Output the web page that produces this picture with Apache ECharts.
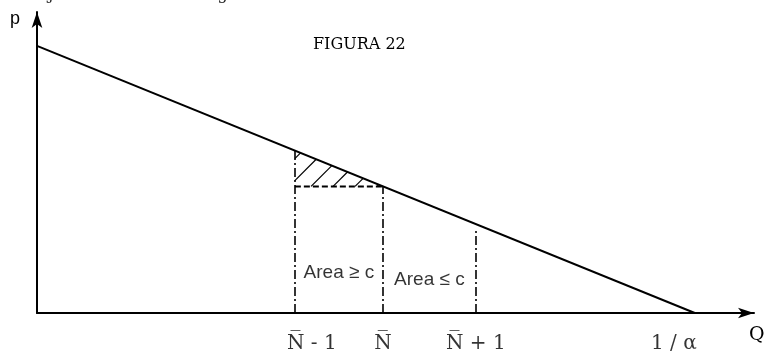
<!DOCTYPE html>
<html>
<head>
<meta charset="utf-8">
<script src="https://cdn.jsdelivr.net/npm/echarts@6/dist/echarts.min.js"></script>
<style>
  html, body { margin: 0; padding: 0; background: #fff; }
  #chart { width: 774px; height: 356px; }
</style>
</head>
<body>
<div id="chart"></div>
<script>
// Linear inverse demand p = 1 - alpha * Q, with 1/alpha on the Q axis
const invAlpha = 10;
const demandPoints = [[0, 1], [invAlpha, 0]];

// Positions of N-1, N, N+1 on the Q axis
const firmCounts = [3.92, 5.26, 6.67];
const firmLabels = ['N\u0305 - 1', 'N\u0305', 'N\u0305 + 1'];
const endLabel = '1 / \u03b1';

const areaLabels = ['Area \u2265 c', 'Area \u2264 c'];

const price = q => 1 - q / invAlpha;

const ink = '#000';
const serif = '"DejaVu Serif", "Liberation Serif", serif';
const sans = '"Liberation Sans", Arial, sans-serif';

const chart = echarts.init(document.getElementById('chart'));

// Dash-dot verticals from the Q axis up to the demand curve
const verticals = firmCounts.map((q, i) => ({
  coords: [[q, 0], [q, price(q) - (i === 2 ? 0.015 : 0)]]
}));

// Hatching inside the triangle above the dashed rectangle
function renderHatch(params, api) {
  const x1 = firmCounts[0], x2 = firmCounts[1];
  const A = api.coord([x1, price(x1)]);
  const B = api.coord([x2, price(x2)]);
  const C = api.coord([x1, price(x2)]);
  const m = (B[1] - A[1]) / (B[0] - A[0]);
  const children = [];
  const step = 22;
  const cMin = A[0] + A[1], cMax = B[0] + B[1];
  for (let c = cMin + 8; c < cMax - 4; c += step) {
    const pts = [];
    // bottom edge
    const xb = c - C[1];
    if (xb >= C[0] && xb <= B[0]) pts.push([xb, C[1]]);
    // left edge
    const yl = c - A[0];
    if (yl >= A[1] && yl <= C[1]) pts.push([A[0], yl]);
    // demand edge
    const xh = (c - A[1] + A[0] * m) / (1 + m);
    if (xh >= A[0] && xh <= B[0]) pts.push([xh, A[1] + (xh - A[0]) * m]);
    if (pts.length >= 2) {
      children.push({
        type: 'line',
        shape: { x1: pts[0][0], y1: pts[0][1], x2: pts[1][0], y2: pts[1][1] },
        style: { stroke: ink, lineWidth: 1.2 }
      });
    }
  }
  return { type: 'group', children };
}

chart.setOption({
  animation: false,
  grid: { left: 37, right: 20, top: 12, bottom: 43 },
  xAxis: {
    type: 'value', min: 0, max: 10.9,
    axisLine: { show: true, onZero: false, symbol: ['none', 'arrow'], symbolSize: [8, 16],
      lineStyle: { color: ink, width: 2 } },
    axisTick: { show: false }, axisLabel: { show: false }, splitLine: { show: false }
  },
  yAxis: {
    type: 'value', min: 0, max: 1.127,
    axisLine: { show: true, onZero: false, symbol: ['none', 'arrow'], symbolSize: [8, 16],
      lineStyle: { color: ink, width: 2 } },
    axisTick: { show: false }, axisLabel: { show: false }, splitLine: { show: false }
  },
  graphic: [
    { type: 'text', left: 313, top: 37,
      style: { text: 'FIGURA 22', font: '16px ' + serif, fill: ink } },
    { type: 'text', left: 10, top: 10,
      style: { text: 'p', font: '18px ' + sans, fill: ink } },
    { type: 'text', left: 749, top: 326,
      style: { text: 'Q', font: '19px ' + serif, fill: ink } },
    { type: 'text', left: 0, top: -13,
      style: { text: 'este eje se muestra en la figura 22.', font: '16px ' + serif, fill: '#222' } }
  ],
  series: [
    {
      type: 'line', data: demandPoints, symbol: 'none',
      lineStyle: { color: ink, width: 2 }, z: 5
    },
    {
      type: 'lines', coordinateSystem: 'cartesian2d', data: verticals,
      lineStyle: { color: ink, width: 1.6, type: [9, 3, 2, 3], opacity: 1 }
    },
    {
      type: 'line', symbol: 'none',
      data: [[firmCounts[0], price(firmCounts[1])], [firmCounts[1], price(firmCounts[1])]],
      lineStyle: { color: ink, width: 2, type: [6, 3] }
    },
    {
      type: 'custom', renderItem: renderHatch, data: [0], clip: false
    },
    {
      type: 'scatter', symbolSize: 0,
      data: firmCounts.map((q, i) => ({ value: [q, 0], name: firmLabels[i] }))
        .concat([{ value: [invAlpha, 0], name: endLabel }]),
      label: {
        show: true, position: 'bottom', distance: 21,
        formatter: p => p.name, color: ink, fontSize: 20, fontFamily: serif
      },
      labelLayout: p => {
        const shifts = [17, 0, 0, -21];
        return { dx: shifts[p.dataIndex] };
      }
    },
    {
      type: 'scatter', symbolSize: 0,
      data: [
        { value: [(firmCounts[0] + firmCounts[1]) / 2, 0.15], name: areaLabels[0] },
        { value: [(firmCounts[1] + firmCounts[2]) / 2, 0.125], name: areaLabels[1] }
      ],
      label: {
        show: true, position: 'inside',
        formatter: p => p.name, color: ink, fontSize: 19, fontFamily: sans
      }
    }
  ]
});
</script>
</body>
</html>
